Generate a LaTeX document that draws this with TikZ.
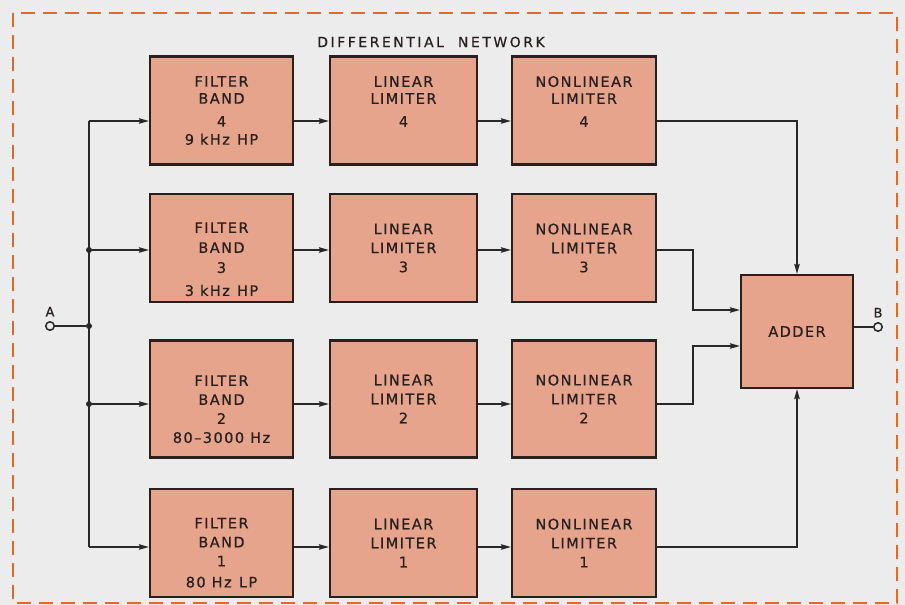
\documentclass[tikz,border=0pt]{standalone}
\usepackage{fontspec}
\setmainfont{DejaVu Sans}[LetterSpace=10,FakeBold=0.6]
\usetikzlibrary{arrows.meta}
\definecolor{paper}{RGB}{236,236,237}
\definecolor{boxfill}{RGB}{230,164,140}
\definecolor{boxline}{RGB}{40,32,30}
\definecolor{wire}{RGB}{40,40,40}
\definecolor{frame}{RGB}{226,104,44}
\begin{document}
\begin{tikzpicture}[x=1pt,y=-1pt,
  box/.style={draw=boxline,line width=2.2pt,fill=boxfill,minimum width=144pt,
    minimum height=108pt,inner sep=0pt,align=center,
    font=\fontsize{14.5}{19}\selectfont,text=boxline},
  wire/.style={draw=wire,line width=1.6pt},
  dot/.style={circle,fill=wire,inner sep=0pt,minimum size=6pt},
  term/.style={circle,draw=wire,line width=1.5pt,fill=paper,inner sep=0pt,minimum size=8.5pt},
  >={Stealth[length=10pt,width=5.5pt,inset=1.5pt]}]
  \fill[paper] (0,0) rectangle (905,605);
  \useasboundingbox (0,0) rectangle (905,605);
  \draw[frame,line width=2pt,dash pattern=on 14pt off 8pt] (13,13) rectangle (897,603);
  \node[font=\fontsize{14}{16}\selectfont\addfontfeature{LetterSpace=18},text=boxline] (title) at (431,42) {DIFFERENTIAL\hspace{1em}NETWORK};

  % band 4
  \node[box,minimum width=143pt] (f4) at (221.5,110.5) {FILTER\\[-2pt]BAND\\[4pt]4\\[-1pt]9 kHz\enspace HP};
  \node[box,minimum width=147pt] (l4) at (403.5,110.5) {LINEAR\\[-2pt]LIMITER\\[4pt]4\\[-1pt]\mbox{}};
  \node[box] (n4) at (584,110.5) {NONLINEAR\\[-2pt]LIMITER\\[4pt]4\\[-1pt]\mbox{}};
  % band 3
  \node[box,minimum width=143pt] (f3) at (221.5,248) {\mbox{}\\[14pt]FILTER\\[1pt]BAND\\[1pt]3\\[4pt]3 kHz\enspace HP};
  \node[box,minimum width=147pt] (l3) at (403.5,248) {LINEAR\\LIMITER\\3};
  \node[box] (n3) at (584,248) {NONLINEAR\\LIMITER\\3};
  % band 2
  \node[box,minimum width=143pt,minimum height=117pt] (f2) at (221.5,399) {\mbox{}\\[12pt]FILTER\\BAND\\2\\80–3000 Hz};
  \node[box,minimum width=147pt,minimum height=117pt] (l2) at (403.5,399) {LINEAR\\LIMITER\\2};
  \node[box,minimum height=117pt] (n2) at (584,399) {NONLINEAR\\LIMITER\\2};
  % band 1
  \node[box,minimum width=143pt] (f1) at (221.5,543) {\mbox{}\\[11pt]FILTER\\BAND\\1\\[2pt]80 Hz\enspace LP};
  \node[box,minimum width=147pt] (l1) at (403.5,543) {LINEAR\\LIMITER\\1};
  \node[box] (n1) at (584,543) {NONLINEAR\\LIMITER\\1};

  \node[box,minimum width=112pt,minimum height=113pt] (adder) at (797,331.5) {ADDER};

  % input bus
  \node[term,label={[font=\fontsize{13}{15}\selectfont,text=boxline,label distance=1pt]above:A}] (A) at (50,326) {};
  \node[term,label={[font=\fontsize{13}{15}\selectfont,text=boxline,label distance=1pt]above:B}] (B) at (878,327) {};
  \coordinate (b4) at (89,121);
  \node[dot] (b3) at (89,250) {};
  \node[dot] (bA) at (89,326) {};
  \node[dot] (b2) at (89,404) {};
  \coordinate (b1) at (89,547);
  \coordinate (j3) at (693,310);
  \coordinate (j2) at (693,346);

  \draw[wire] (A) -- (bA);
  \draw[wire] (b4) -- (b1);
  \draw[wire,->] (b4) -- (f4.west |- b4);
  \draw[wire,->] (b3) -- (f3.west |- b3);
  \draw[wire,->] (b2) -- (f2.west |- b2);
  \draw[wire,->] (b1) -- (f1.west |- b1);

  \draw[wire,->] (f4.east |- b4) -- (l4.west |- b4);
  \draw[wire,->] (l4.east |- b4) -- (n4.west |- b4);
  \draw[wire,->] (f3.east |- b3) -- (l3.west |- b3);
  \draw[wire,->] (l3.east |- b3) -- (n3.west |- b3);
  \draw[wire,->] (f2.east |- b2) -- (l2.west |- b2);
  \draw[wire,->] (l2.east |- b2) -- (n2.west |- b2);
  \draw[wire,->] (f1.east |- b1) -- (l1.west |- b1);
  \draw[wire,->] (l1.east |- b1) -- (n1.west |- b1);

  % to the adder
  \draw[wire,->] (n4.east |- b4) -| (adder.north);
  \draw[wire,->] (n3.east |- b3) -| (j3) -- (adder.west |- j3);
  \draw[wire,->] (n2.east |- b2) -| (j2) -- (adder.west |- j2);
  \draw[wire,->] (n1.east |- b1) -| (adder.south);
  \draw[wire] (adder.east |- B) -- (B);
\end{tikzpicture}
\end{document}
